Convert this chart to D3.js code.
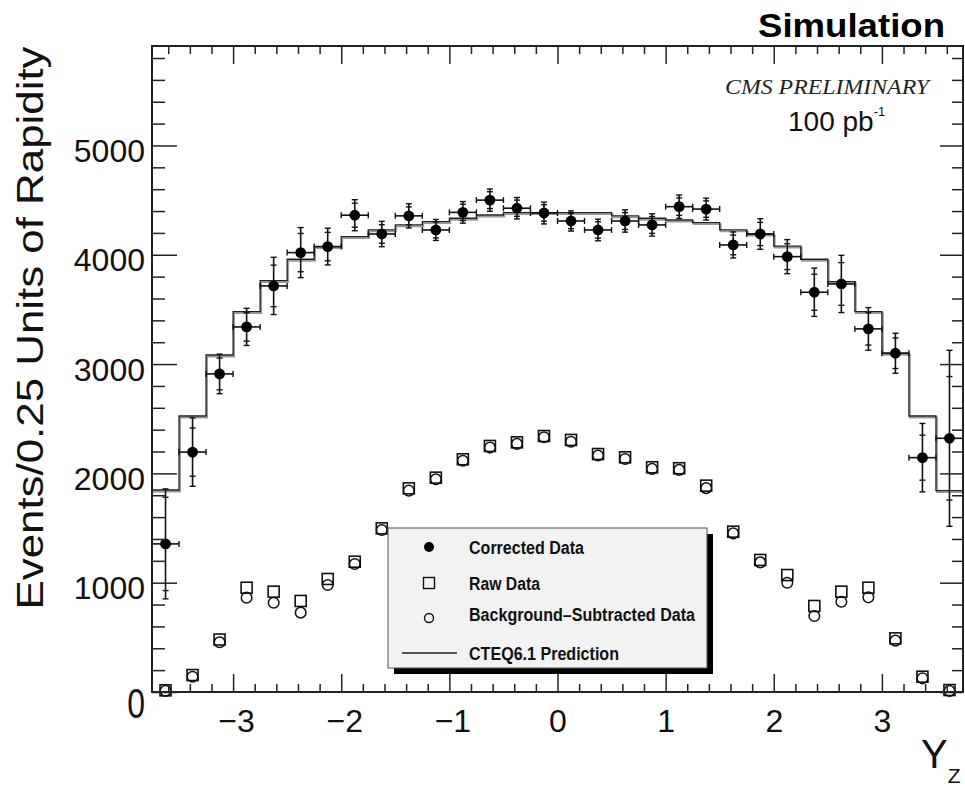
<html>
  <head>
    <meta charset="utf-8">
    <title>Z rapidity</title>
    <style>
      body { margin: 0; background: #fff; }
      .axis path.domain { display: none; }
      .axis line { stroke: #222; stroke-width: 1.5; }
      .axis text { font-family: "Liberation Sans", Arial, sans-serif; font-size: 32px; fill: #111; }
      .leg text { font-family: "Liberation Sans Narrow", "Liberation Sans", sans-serif; font-weight: bold; font-size: 18px; fill: #111; }
    </style>
  </head>
  <body>
    <script src="https://cdn.jsdelivr.net/npm/d3@7"></script>
    <script>
    var width = 965;
    var height = 788;

    // bin centres (0.25 wide bins)
    var yzBins = [-3.625, -3.375, -3.125, -2.875, -2.625, -2.375, -2.125, -1.875, -1.625, -1.375,
                  -1.125, -0.875, -0.625, -0.375, -0.125, 0.125, 0.375, 0.625, 0.875, 1.125,
                  1.375, 1.625, 1.875, 2.125, 2.375, 2.625, 2.875, 3.125, 3.375, 3.625];

    var corrected = [1355, 2195, 2910, 3340, 3715, 4020, 4075, 4362, 4190, 4356,
                     4227, 4388, 4500, 4426, 4382, 4309, 4227, 4309, 4273, 4440,
                     4418, 4090, 4190, 3983, 3657, 3733, 3322, 3099, 2144, 2321];
    var totalErr = [503, 313, 181, 170, 262, 229, 168, 142, 116, 111,
                    96, 99, 102, 98, 100, 92, 99, 102, 102, 107,
                    100, 119, 140, 156, 221, 262, 195, 183, 313, 805];
    var statErr = [427, 221, 145, 130, 190, 175, 130, 110, 85, 82,
                   73, 75, 77, 74, 75, 70, 75, 77, 77, 80,
                   75, 90, 106, 118, 165, 195, 148, 140, 206, 565];
    var rawData = [15, 155, 480, 954, 918, 833, 1034, 1192, 1497, 1863,
                   1961, 2129, 2251, 2284, 2342, 2306, 2177, 2147, 2056, 2047,
                   1888, 1467, 1208, 1070, 787, 918, 954, 491, 140, 18];
    var bkgSub = [10, 140, 455, 863, 817, 726, 979, 1171, 1482, 1842,
                  1946, 2115, 2236, 2270, 2330, 2290, 2163, 2132, 2041, 2032,
                  1865, 1451, 1186, 1000, 695, 826, 866, 470, 125, 10];
    var cteq = [1848, 2525, 3083, 3480, 3763, 3959, 4074, 4166, 4227, 4273,
                4303, 4334, 4364, 4385, 4385, 4385, 4385, 4355, 4334, 4318,
                4294, 4227, 4190, 4080, 3959, 3754, 3480, 3099, 2525, 1842];

    var xMajor = [-3, -2, -1, 0, 1, 2, 3];
    var yMajor = [0, 1000, 2000, 3000, 4000, 5000];
    var legendLabels = ["Corrected Data", "Raw Data", "Background\u2013Subtracted Data", "CTEQ6.1 Prediction"];

    var padding = {left: 152, right: 2, top: 46, bottom: 96};
    var binW = 0.25;

    var svg = d3.select('body').append('svg')
      .attr('width', width).attr('height', height);

    var x = d3.scaleLinear().domain([-3.75, 3.75])
      .range([padding.left, width - padding.right]);
    var y = d3.scaleLinear().domain([0, 5910])
      .range([height - padding.bottom, padding.top]);

    var x0 = x.range()[0], x1 = x.range()[1];
    var y0 = y.range()[0], y1 = y.range()[1];

    // minor tick positions
    var xMinor = d3.range(-3.6, 3.61, 0.2).map(function(d){ return Math.round(d * 10) / 10; })
      .filter(function(d){ return xMajor.indexOf(d) < 0; });
    var yMinor = d3.range(200, 5900, 200).filter(function(d){ return d % 1000 !== 0; });

    // prediction histogram (step)
    var steps = yzBins.map(function(c, i){ return [c - binW / 2, cteq[i]]; });
    steps.push([yzBins[yzBins.length - 1] + binW / 2, cteq[cteq.length - 1]]);
    var stepLine = d3.line()
      .x(function(d){ return x(d[0]); })
      .y(function(d){ return y(d[1]); })
      .curve(d3.curveStepAfter);

    svg.append('path').datum(steps)
      .attr('d', stepLine)
      .attr('transform', 'translate(1,1.5)')
      .attr('fill', 'none').attr('stroke', '#9a9a9a').attr('stroke-width', 1.8);
    svg.append('path').datum(steps)
      .attr('d', stepLine)
      .attr('fill', 'none').attr('stroke', '#222').attr('stroke-width', 1.3);

    // raw data squares
    var sq = 11;
    svg.selectAll('.raw').data(rawData).enter().append('rect')
      .attr('class', 'raw')
      .attr('x', function(d, i){ return x(yzBins[i]) - sq / 2; })
      .attr('y', function(d){ return y(d) - sq / 2; })
      .attr('width', sq).attr('height', sq)
      .attr('fill', 'none').attr('stroke', '#111').attr('stroke-width', 1.6);

    // background subtracted circles
    svg.selectAll('.bkg').data(bkgSub).enter().append('circle')
      .attr('class', 'bkg')
      .attr('cx', function(d, i){ return x(yzBins[i]); })
      .attr('cy', function(d){ return y(d); })
      .attr('r', 5.3)
      .attr('fill', 'none').attr('stroke', '#111').attr('stroke-width', 1.5);

    // corrected data with error bars
    var pts = svg.selectAll('.corr').data(corrected).enter().append('g').attr('class', 'corr');
    pts.append('line')
      .attr('x1', function(d, i){ return x(yzBins[i] - binW / 2); })
      .attr('x2', function(d, i){ return x(yzBins[i] + binW / 2); })
      .attr('y1', function(d){ return y(d); })
      .attr('y2', function(d){ return y(d); })
      .attr('stroke', '#111').attr('stroke-width', 1.6);
    [-1, 1].forEach(function(s){
      pts.append('line')
        .attr('x1', function(d, i){ return x(yzBins[i] + s * binW / 2); })
        .attr('x2', function(d, i){ return x(yzBins[i] + s * binW / 2); })
        .attr('y1', function(d){ return y(d) - 3; })
        .attr('y2', function(d){ return y(d) + 3; })
        .attr('stroke', '#111').attr('stroke-width', 1.4);
    });
    pts.append('line')
      .attr('x1', function(d, i){ return x(yzBins[i]); })
      .attr('x2', function(d, i){ return x(yzBins[i]); })
      .attr('y1', function(d, i){ return y(d + totalErr[i]); })
      .attr('y2', function(d, i){ return y(d - totalErr[i]); })
      .attr('stroke', '#111').attr('stroke-width', 1.6);
    [[totalErr, 1], [totalErr, -1], [statErr, 1], [statErr, -1]].forEach(function(e){
      pts.append('line')
        .attr('x1', function(d, i){ return x(yzBins[i]) - 3; })
        .attr('x2', function(d, i){ return x(yzBins[i]) + 3; })
        .attr('y1', function(d, i){ return y(d + e[1] * e[0][i]); })
        .attr('y2', function(d, i){ return y(d + e[1] * e[0][i]); })
        .attr('stroke', '#111').attr('stroke-width', 1.4);
    });
    pts.append('circle')
      .attr('cx', function(d, i){ return x(yzBins[i]); })
      .attr('cy', function(d){ return y(d); })
      .attr('r', 5.4).attr('fill', '#000');

    // axes (ROOT style: ticks inside, on all four sides)
    function addAxis(axis, tr){
      return svg.append('g').attr('class', 'axis')
        .attr('transform', tr).call(axis);
    }
    var xb = addAxis(d3.axisBottom(x).tickValues(xMajor).tickSizeInner(-18).tickSizeOuter(0).tickPadding(17)
      .tickFormat(function(d){ return d < 0 ? '\u2212' + Math.abs(d) : d; }), 'translate(0,' + y0 + ')');
    xb.selectAll('text').attr('dx', function(d){ return d < 0 ? 3 : 0; });
    addAxis(d3.axisBottom(x).tickValues(xMinor).tickSizeInner(-8).tickSizeOuter(0).tickFormat(''), 'translate(0,' + y0 + ')');
    addAxis(d3.axisTop(x).tickValues(xMajor).tickSizeInner(-18).tickSizeOuter(0).tickFormat(''), 'translate(0,' + y1 + ')');
    addAxis(d3.axisTop(x).tickValues(xMinor).tickSizeInner(-8).tickSizeOuter(0).tickFormat(''), 'translate(0,' + y1 + ')');

    var yl = addAxis(d3.axisLeft(y).tickValues(yMajor).tickSizeInner(-25).tickSizeOuter(0).tickPadding(7)
      .tickFormat(d3.format('d')), 'translate(' + x0 + ',0)');
    yl.selectAll('text').attr('dy', '0.5em');
    yl.selectAll('text').filter(function(d){ return d === 0; })
      .attr('dy', null).attr('y', 19).attr('transform', 'scale(1,1.35)');
    addAxis(d3.axisLeft(y).tickValues(yMinor).tickSizeInner(-13).tickSizeOuter(0).tickFormat(''), 'translate(' + x0 + ',0)');
    addAxis(d3.axisRight(y).tickValues(yMajor).tickSizeInner(-23).tickSizeOuter(0).tickFormat(''), 'translate(' + x1 + ',0)');
    addAxis(d3.axisRight(y).tickValues(yMinor).tickSizeInner(-11).tickSizeOuter(0).tickFormat(''), 'translate(' + x1 + ',0)');

    // frame
    svg.append('rect')
      .attr('x', x0).attr('y', y1).attr('width', x1 - x0).attr('height', y0 - y1)
      .attr('fill', 'none').attr('stroke', '#222').attr('stroke-width', 2);

    // legend
    var leg = svg.append('g').attr('class', 'leg');
    var lx = 388, ly = 528, lw = 319, lh = 140;
    leg.append('rect').attr('x', lx + 6).attr('y', ly + 6).attr('width', lw).attr('height', lh).attr('fill', '#000');
    leg.append('rect').attr('x', lx).attr('y', ly).attr('width', lw).attr('height', lh)
      .attr('fill', '#f2f2f2').attr('stroke', '#555').attr('stroke-width', 1);
    var rowY = [547, 583, 618, 653];
    var baseY = [554, 590, 621, 660];
    var textLen = [115, 71, 226, 150];
    leg.append('circle').attr('cx', 429).attr('cy', rowY[0]).attr('r', 5).attr('fill', '#000');
    leg.append('rect').attr('x', 429 - 5.5).attr('y', rowY[1] - 5.5).attr('width', 11).attr('height', 11)
      .attr('fill', 'none').attr('stroke', '#111').attr('stroke-width', 1.4);
    leg.append('circle').attr('cx', 429).attr('cy', rowY[2]).attr('r', 4.5)
      .attr('fill', 'none').attr('stroke', '#111').attr('stroke-width', 1.4);
    leg.append('line').attr('x1', 402).attr('x2', 457).attr('y1', rowY[3]).attr('y2', rowY[3])
      .attr('stroke', '#222').attr('stroke-width', 1.4);
    leg.selectAll('text').data(legendLabels).enter().append('text')
      .attr('x', 469).attr('y', function(d, i){ return baseY[i]; })
      .attr('textLength', function(d, i){ return textLen[i]; })
      .attr('lengthAdjust', 'spacingAndGlyphs')
      .text(function(d){ return d; });

    // titles and annotations
    svg.append('text')
      .attr('transform', 'translate(43,328) rotate(-90)')
      .attr('text-anchor', 'middle')
      .attr('textLength', 563).attr('lengthAdjust', 'spacingAndGlyphs')
      .style('font-family', '"Liberation Sans", Arial, sans-serif').style('font-size', '37px').attr('fill', '#111')
      .text('Events/0.25 Units of Rapidity');

    var xt = svg.append('text').attr('x', 921).attr('y', 768)
      .style('font-family', '"Liberation Sans", Arial, sans-serif').style('font-size', '40px').attr('fill', '#111');
    xt.append('tspan').text('Y');
    xt.append('tspan').attr('dy', 15).style('font-size', '21px').text('Z');

    svg.append('text').attr('x', 758).attr('y', 37)
      .attr('textLength', 187).attr('lengthAdjust', 'spacingAndGlyphs')
      .style('font-family', '"Liberation Sans", Arial, sans-serif').style('font-size', '33px').style('font-weight', 'bold')
      .text('Simulation');

    svg.append('text').attr('x', 725).attr('y', 94)
      .attr('textLength', 204).attr('lengthAdjust', 'spacingAndGlyphs')
      .style('font-family', '"Liberation Serif", "Times New Roman", serif').style('font-size', '22px').style('font-style', 'italic')
      .attr('fill', '#222')
      .text('CMS PRELIMINARY');

    var lum = svg.append('text').attr('x', 788).attr('y', 131)
      .style('font-family', '"Liberation Sans", Arial, sans-serif').style('font-size', '28px').attr('fill', '#111');
    lum.append('tspan').text('100 pb');
    lum.append('tspan').attr('dy', -15).style('font-size', '13px').text('-1');
    </script>
  </body>
</html>
